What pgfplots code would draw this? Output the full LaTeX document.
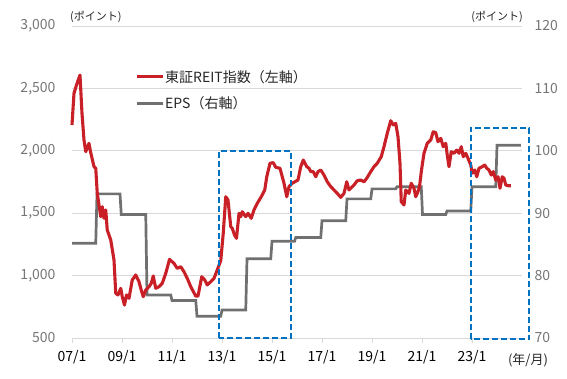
\documentclass[border=0pt]{standalone}
\usepackage{fontspec}
\setmainfont{Noto Sans CJK JP}
\usepackage{pgfplots}
\pgfplotsset{compat=1.18}
\definecolor{reitred}{RGB}{200,32,38}
\definecolor{epsgray}{RGB}{112,112,112}
\definecolor{boxblue}{RGB}{0,112,192}
\definecolor{tickgray}{RGB}{118,118,118}
\definecolor{gridgray}{RGB}{217,217,217}
\begin{document}
\begin{tikzpicture}
\useasboundingbox (-72pt,-40pt) rectangle (495pt,338pt);
% ---------- right axis (EPS) ----------
\begin{axis}[
  scale only axis, width=450pt, height=312pt,
  xmin=2007, xmax=2025, ymin=70, ymax=120,
  axis x line*=bottom, axis y line*=right,
  x axis line style={-, draw=gridgray, line width=0.8pt},
  y axis line style={draw=none},
  xtick={2007,2009,...,2023},
  xticklabels={07/1,09/1,11/1,13/1,15/1,17/1,19/1,21/1,23/1},
  xtick align=outside, major tick length=5pt,
  xtick style={draw=gridgray, line width=0.8pt},
  ytick={70,80,...,120}, ytick style={draw=none},
  ymajorgrids, grid style={gridgray, line width=0.8pt},
  /pgf/number format/assume math mode=true,
  x tick label style={font=\fontsize{14}{16}\selectfont, text=black, yshift=-4pt},
  y tick label style={font=\fontsize{14}{16}\selectfont, text=tickgray, xshift=9pt},
  legend style={at={(rel axis cs:0.14,0.862)}, anchor=north west, draw=none, fill=none,
    font=\fontsize{14}{16}\selectfont, row sep=11pt, inner sep=0pt,
    nodes={inner sep=1pt, text=black!85}},
  legend cell align=left,
  legend image code/.code={\draw[line width=2.7pt,#1] (0pt,0pt) -- (26pt,0pt);},
]
\addlegendimage{legend image code/.code={\draw[draw=reitred, line width=3pt] (0pt,0pt) -- (26pt,0pt);}}
\addlegendentry{東証REIT指数（左軸）}
\addplot[epsgray, line width=2.7pt] coordinates {
(2007.00,85.2) (2007.95,85.2) (2008.00,93.1) (2008.92,93.1) (2008.97,89.8)
(2009.95,89.8) (2010.00,76.9) (2010.95,76.9) (2011.00,76.0) (2011.95,76.0)
(2012.00,73.5) (2012.95,73.5) (2013.00,74.5) (2013.95,74.5) (2014.00,82.7)
(2014.95,82.7) (2015.00,85.5) (2015.90,85.5) (2015.95,86.1) (2016.95,86.1)
(2017.00,88.8) (2017.95,88.8) (2018.00,92.3) (2018.95,92.3) (2019.00,93.9)
(2019.95,93.9) (2020.00,94.25) (2020.97,94.25) (2021.02,89.8) (2021.95,89.8)
(2022.00,90.35) (2022.95,90.35) (2023.00,94.25) (2023.95,94.25) (2024.00,100.9)
(2024.95,100.9)
};
\addlegendentry{EPS（右軸）}
\end{axis}
% ---------- left axis (REIT index) ----------
\begin{axis}[
  scale only axis, width=450pt, height=312pt,
  xmin=2007, xmax=2025, ymin=500, ymax=3000,
  axis x line=none, axis y line*=left,
  y axis line style={draw=none},
  ytick={500,1000,...,3000}, ytick style={draw=none},
  /pgf/number format/assume math mode=true,
  /pgf/number format/1000 sep={,},
  y tick label style={font=\fontsize{14}{16}\selectfont, text=tickgray, xshift=-13pt},
  clip=false,
]
\addplot[reitred, line width=3.1pt, line join=round] coordinates {
(2007.00,2207) (2007.08,2461) (2007.20,2540) (2007.32,2607) (2007.40,2300)
(2007.48,2086) (2007.55,1993) (2007.68,2060) (2007.74,1993) (2007.88,1873)
(2007.95,1860) (2008.01,1659) (2008.15,1472) (2008.21,1552) (2008.28,1459)
(2008.35,1526) (2008.41,1365) (2008.55,1285) (2008.68,1125) (2008.75,858)
(2008.84,845) (2008.95,898) (2009.01,831) (2009.10,764) (2009.18,845)
(2009.28,818) (2009.41,965) (2009.55,1005) (2009.68,951) (2009.77,884)
(2009.85,831) (2009.95,884) (2010.08,911) (2010.17,938) (2010.25,997)
(2010.35,898) (2010.48,911) (2010.61,938) (2010.75,1018) (2010.90,1130)
(2011.08,1098) (2011.21,1058) (2011.35,1071) (2011.48,1031) (2011.61,978)
(2011.75,911) (2011.95,836) (2012.04,836) (2012.19,991) (2012.31,965)
(2012.41,925) (2012.55,951) (2012.68,978) (2012.81,1045) (2012.95,1120)
(2013.05,1339) (2013.15,1632) (2013.24,1606) (2013.35,1392) (2013.41,1379)
(2013.50,1325) (2013.58,1299) (2013.68,1499) (2013.75,1472) (2013.81,1512)
(2013.95,1472) (2014.04,1499) (2014.17,1459) (2014.28,1526) (2014.41,1579)
(2014.57,1632) (2014.71,1686) (2014.79,1792) (2014.92,1900) (2015.05,1905)
(2015.15,1868) (2015.32,1860) (2015.48,1740) (2015.59,1632) (2015.68,1713)
(2015.81,1740) (2016.04,1766) (2016.15,1873) (2016.25,1926) (2016.39,1873)
(2016.48,1860) (2016.55,1833) (2016.65,1833) (2016.75,1792) (2016.84,1833)
(2016.95,1846) (2017.08,1806) (2017.21,1752) (2017.35,1713) (2017.48,1686)
(2017.61,1659) (2017.75,1627) (2017.88,1659) (2017.99,1752) (2018.08,1686)
(2018.28,1726) (2018.41,1760) (2018.55,1766) (2018.68,1752) (2018.79,1780)
(2018.95,1833) (2019.08,1873) (2019.21,1900) (2019.37,1953) (2019.48,2033)
(2019.61,2140) (2019.75,2241) (2019.85,2207) (2019.95,2220) (2020.04,2113)
(2020.12,1900) (2020.17,1592) (2020.28,1566) (2020.35,1686) (2020.48,1659)
(2020.57,1740) (2020.68,1700) (2020.75,1632) (2020.84,1673) (2020.90,1713)
(2020.98,1846) (2021.08,1980) (2021.21,2060) (2021.35,2087) (2021.45,2153)
(2021.55,2145) (2021.64,2073) (2021.75,2100) (2021.85,2033) (2021.95,2060)
(2022.01,1966) (2022.08,1873) (2022.17,1993) (2022.28,1980) (2022.39,2006)
(2022.48,1980) (2022.57,2033) (2022.65,1953) (2022.75,1980) (2022.84,1940)
(2022.95,1886) (2023.01,1820) (2023.11,1846) (2023.19,1792) (2023.28,1860)
(2023.41,1873) (2023.51,1886) (2023.59,1860) (2023.68,1846) (2023.77,1806)
(2023.85,1833) (2023.95,1766) (2024.04,1792) (2024.12,1700) (2024.21,1792)
(2024.28,1780) (2024.35,1726) (2024.45,1720) (2024.55,1720)
};
\draw[boxblue, line width=1.8pt, dash pattern=on 6pt off 3pt]
  (axis cs:2012.88,500) rectangle (axis cs:2015.76,2000);
\draw[boxblue, line width=1.8pt, dash pattern=on 6pt off 3pt]
  (axis cs:2022.95,490) rectangle (axis cs:2025.29,2185);
\node[anchor=west, font=\fontsize{11}{13}\selectfont, text=black!85, inner sep=0pt]
  at (rel axis cs:0,1) [xshift=-2pt, yshift=9pt] {(ポイント)};
\node[anchor=east, font=\fontsize{11}{13}\selectfont, text=black!85, inner sep=0pt]
  at (rel axis cs:1,1) [xshift=1pt, yshift=9pt] {(ポイント)};
\node[anchor=center, font=\fontsize{13}{15}\selectfont, text=black!85, inner sep=0pt]
  at (rel axis cs:1,0) [xshift=6pt, yshift=-22pt] {(年/月)};
\end{axis}
\end{tikzpicture}
\end{document}
